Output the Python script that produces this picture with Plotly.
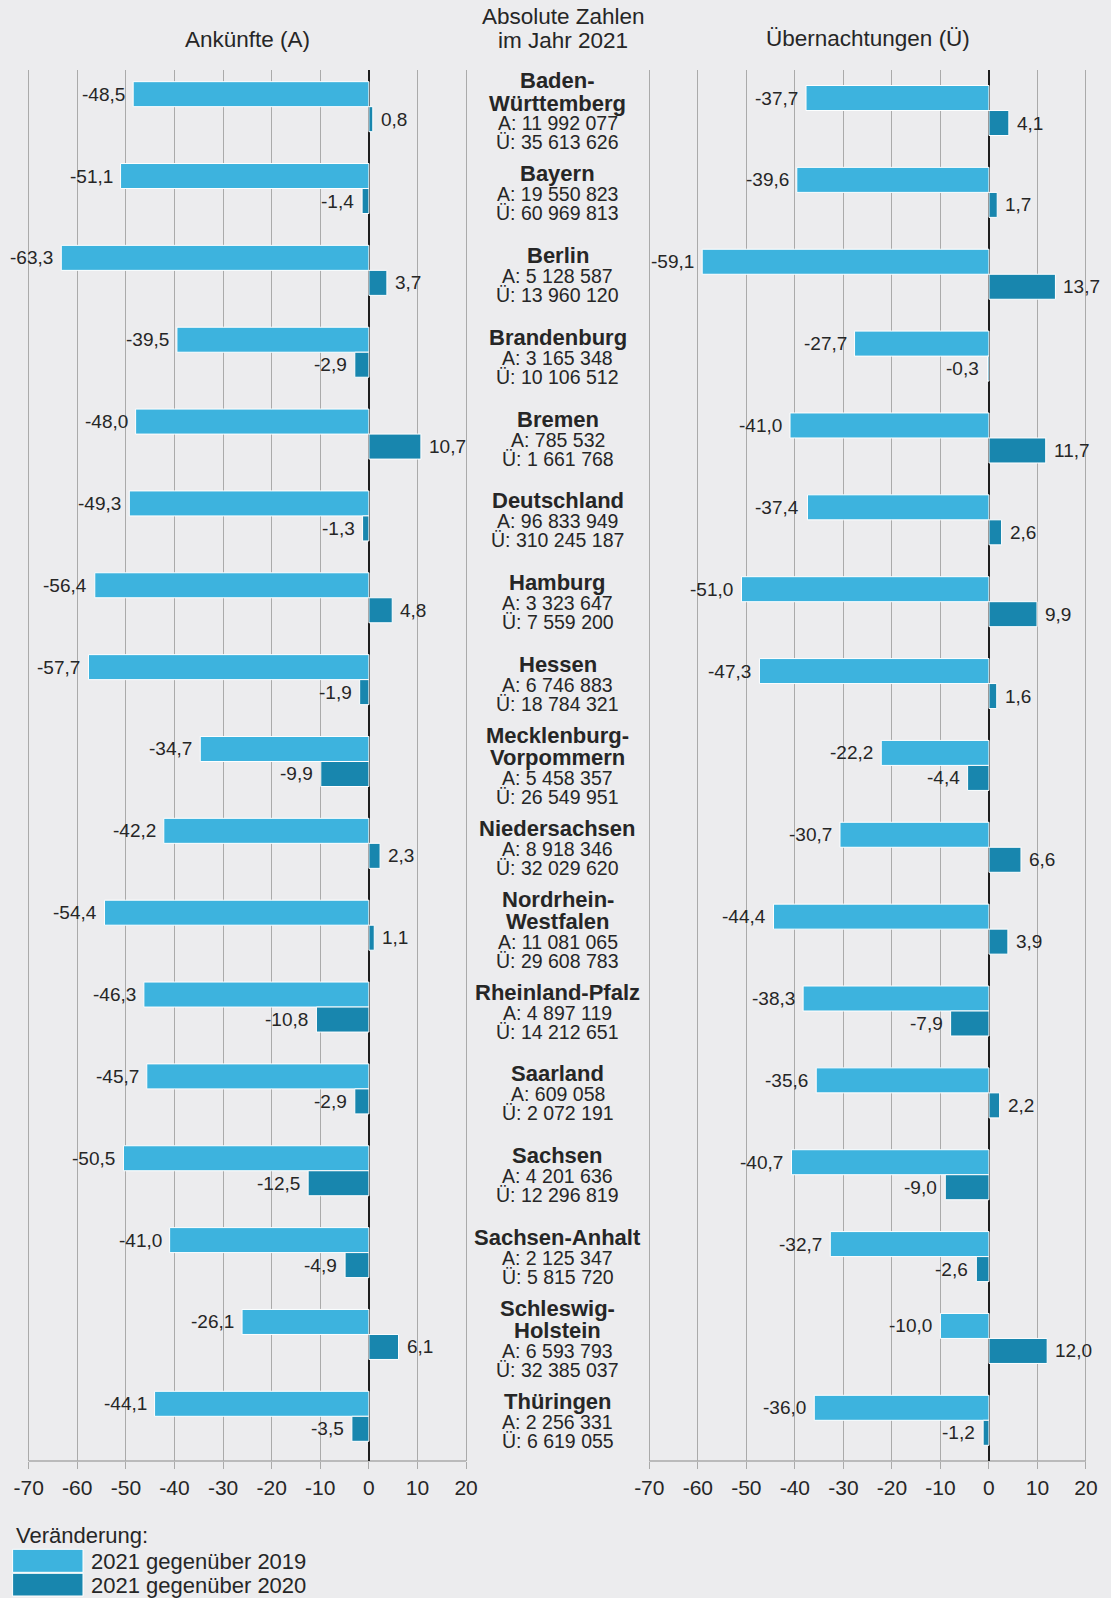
import plotly.graph_objects as go

W, H = 1111, 1598

laender = ["Baden-Württemberg", "Bayern", "Berlin", "Brandenburg", "Bremen",
           "Deutschland", "Hamburg", "Hessen", "Mecklenburg-Vorpommern",
           "Niedersachsen", "Nordrhein-Westfalen", "Rheinland-Pfalz", "Saarland",
           "Sachsen", "Sachsen-Anhalt", "Schleswig-Holstein", "Thüringen"]
name_lines = [["Baden-", "Württemberg"], ["Bayern"], ["Berlin"], ["Brandenburg"],
              ["Bremen"], ["Deutschland"], ["Hamburg"], ["Hessen"],
              ["Mecklenburg-", "Vorpommern"], ["Niedersachsen"],
              ["Nordrhein-", "Westfalen"], ["Rheinland-Pfalz"], ["Saarland"],
              ["Sachsen"], ["Sachsen-Anhalt"], ["Schleswig-", "Holstein"], ["Thüringen"]]

ank_2019 = [-48.5, -51.1, -63.3, -39.5, -48.0, -49.3, -56.4, -57.7, -34.7,
            -42.2, -54.4, -46.3, -45.7, -50.5, -41.0, -26.1, -44.1]
ank_2020 = [0.8, -1.4, 3.7, -2.9, 10.7, -1.3, 4.8, -1.9, -9.9,
            2.3, 1.1, -10.8, -2.9, -12.5, -4.9, 6.1, -3.5]
ueb_2019 = [-37.7, -39.6, -59.1, -27.7, -41.0, -37.4, -51.0, -47.3, -22.2,
            -30.7, -44.4, -38.3, -35.6, -40.7, -32.7, -10.0, -36.0]
ueb_2020 = [4.1, 1.7, 13.7, -0.3, 11.7, 2.6, 9.9, 1.6, -4.4,
            6.6, 3.9, -7.9, 2.2, -9.0, -2.6, 12.0, -1.2]

abs_ank = ["11 992 077", "19 550 823", "5 128 587", "3 165 348", "785 532",
           "96 833 949", "3 323 647", "6 746 883", "5 458 357", "8 918 346",
           "11 081 065", "4 897 119", "609 058", "4 201 636", "2 125 347",
           "6 593 793", "2 256 331"]
abs_ueb = ["35 613 626", "60 969 813", "13 960 120", "10 106 512", "1 661 768",
           "310 245 187", "7 559 200", "18 784 321", "26 549 951", "32 029 620",
           "29 608 783", "14 212 651", "2 072 191", "12 296 819", "5 815 720",
           "32 385 037", "6 619 055"]

tick_vals = [-70, -60, -50, -40, -30, -20, -10, 0, 10, 20]
tick_text = ["-70", "-60", "-50", "-40", "-30", "-20", "-10", "0", "10", "20"]

LIGHT = "#3db3de"
DARK = "#1886ae"
BG = "#ececee"
GRID = "#aaaaaa"
TXT = "#262626"
FONT = "Liberation Sans"


def px(x):
    return x / W


def py(y):
    return 1 - y / H


fig = go.Figure()

for xa, ya, s19, s20 in [("x", "y", ank_2019, ank_2020), ("x2", "y2", ueb_2019, ueb_2020)]:
    fig.add_trace(go.Bar(y=laender, x=s19, orientation="h", xaxis=xa, yaxis=ya,
                         marker=dict(color=LIGHT, line=dict(color="white", width=1)),
                         showlegend=False, hoverinfo="skip"))
    fig.add_trace(go.Bar(y=laender, x=s20, orientation="h", xaxis=xa, yaxis=ya,
                         marker=dict(color=DARK, line=dict(color="white", width=1)),
                         showlegend=False, hoverinfo="skip"))

annotations = []


def fmt(v):
    return f"{v:.1f}".replace(".", ",")


for xa, ya, s19, s20 in [("x", "y", ank_2019, ank_2020), ("x2", "y2", ueb_2019, ueb_2020)]:
    for series, ys in [(s19, 12.5), (s20, -12.5)]:
        for cat, v in zip(laender, series):
            annotations.append(dict(
                x=v, y=cat, xref=xa, yref=ya, text=fmt(v), showarrow=False,
                xanchor="right" if v < 0 else "left",
                xshift=-6 if v < 0 else 6, yshift=ys,
                font=dict(family=FONT, size=19, color=TXT)))

# center text block
for cat, lines, a, u in zip(laender, name_lines, abs_ank, abs_ueb):
    if len(lines) == 1:
        offs = [-15, 5.5, 24.5]
    else:
        offs = [-26, -3.5, 16.5, 35.5]
    texts = [f"<b>{l}</b>" for l in lines] + [f"A: {a}", f"Ü: {u}"]
    sizes = [22] * len(lines) + [19.5, 19.5]
    for t, o, s in zip(texts, offs, sizes):
        annotations.append(dict(
            x=px(557.5), y=cat, xref="paper", yref="y", text=t, showarrow=False,
            xanchor="center", yanchor="middle", yshift=-o,
            font=dict(family=FONT, size=s, color=TXT)))

# headers
for t, x, y in [("Ankünfte (A)", 247.4, 39), ("Absolute Zahlen", 563, 16),
                ("im Jahr 2021", 563, 41), ("Übernachtungen (Ü)", 867.7, 38)]:
    annotations.append(dict(x=px(x), y=py(y), xref="paper", yref="paper", text=t,
                            showarrow=False, xanchor="center", yanchor="middle",
                            font=dict(family=FONT, size=22.5, color=TXT)))

# legend
annotations.append(dict(x=px(14), y=py(1535), xref="paper", yref="paper", text="Veränderung:",
                        showarrow=False, xanchor="left", yanchor="middle",
                        font=dict(family=FONT, size=22, color=TXT)))
annotations.append(dict(x=px(89), y=py(1561.5), xref="paper", yref="paper",
                        text="2021 gegenüber 2019", showarrow=False, xanchor="left",
                        yanchor="middle", font=dict(family=FONT, size=22, color=TXT)))
annotations.append(dict(x=px(89), y=py(1585.5), xref="paper", yref="paper",
                        text="2021 gegenüber 2020", showarrow=False, xanchor="left",
                        yanchor="middle", font=dict(family=FONT, size=22, color=TXT)))

shapes = [
    dict(type="rect", xref="paper", yref="paper", x0=px(12.6), x1=px(83),
         y0=py(1572.3), y1=py(1549.3), fillcolor=LIGHT, line=dict(color="white", width=1)),
    dict(type="rect", xref="paper", yref="paper", x0=px(12.6), x1=px(83),
         y0=py(1596), y1=py(1573.3), fillcolor=DARK, line=dict(color="white", width=1)),
]
for xa, ya in [("x", "y"), ("x2", "y2")]:
    shapes.append(dict(type="line", xref=xa, yref=f"{ya} domain", x0=-70, x1=20, y0=0, y1=0,
                       line=dict(color=GRID, width=1.5), layer="below"))

ppu_l = (466.1 - 28.7) / 90
ppu_r = (1086 - 649.3) / 90
pad = 0.4
yd = [py(1461), py(70)]

axis_common = dict(range=[-70 - pad, 20 + pad], tickvals=tick_vals, ticktext=tick_text,
                   showgrid=True, gridcolor=GRID, gridwidth=1.4,
                   zeroline=True, zerolinecolor="#1e1e1e", zerolinewidth=2,
                   ticks="outside", ticklen=7, tickcolor=GRID, tickwidth=1.4,
                   ticklabelstandoff=1, automargin=False,
                   tickfont=dict(family=FONT, size=21, color=TXT),
                   showline=False, fixedrange=True)

fig.update_layout(
    width=W, height=H,
    margin=dict(l=0, r=0, t=0, b=0, pad=0, autoexpand=False),
    paper_bgcolor=BG, plot_bgcolor=BG,
    barmode="group", bargap=0.389, bargroupgap=0,
    font=dict(family=FONT, color=TXT),
    xaxis=dict(domain=[px(28.7 - pad * ppu_l), px(466.1 + pad * ppu_l)], anchor="y",
               **axis_common),
    xaxis2=dict(domain=[px(649.3 - pad * ppu_r), px(1086 + pad * ppu_r)], anchor="y2",
                **axis_common),
    yaxis=dict(domain=yd, anchor="x", type="category", categoryorder="array",
               categoryarray=laender, range=[16.546, -0.448], showgrid=False,
               zeroline=False, showticklabels=False, ticks="", fixedrange=True,
               automargin=False),
    yaxis2=dict(domain=yd, anchor="x2", type="category", categoryorder="array",
                categoryarray=laender, range=[16.497, -0.495], showgrid=False,
                zeroline=False, showticklabels=False, ticks="", fixedrange=True,
                automargin=False),
    annotations=annotations,
    shapes=shapes,
)

fig.write_html("out.html", config={"displayModeBar": False},
               post_script="document.body.style.margin='0';document.body.style.padding='0';document.body.style.overflow='hidden';")
